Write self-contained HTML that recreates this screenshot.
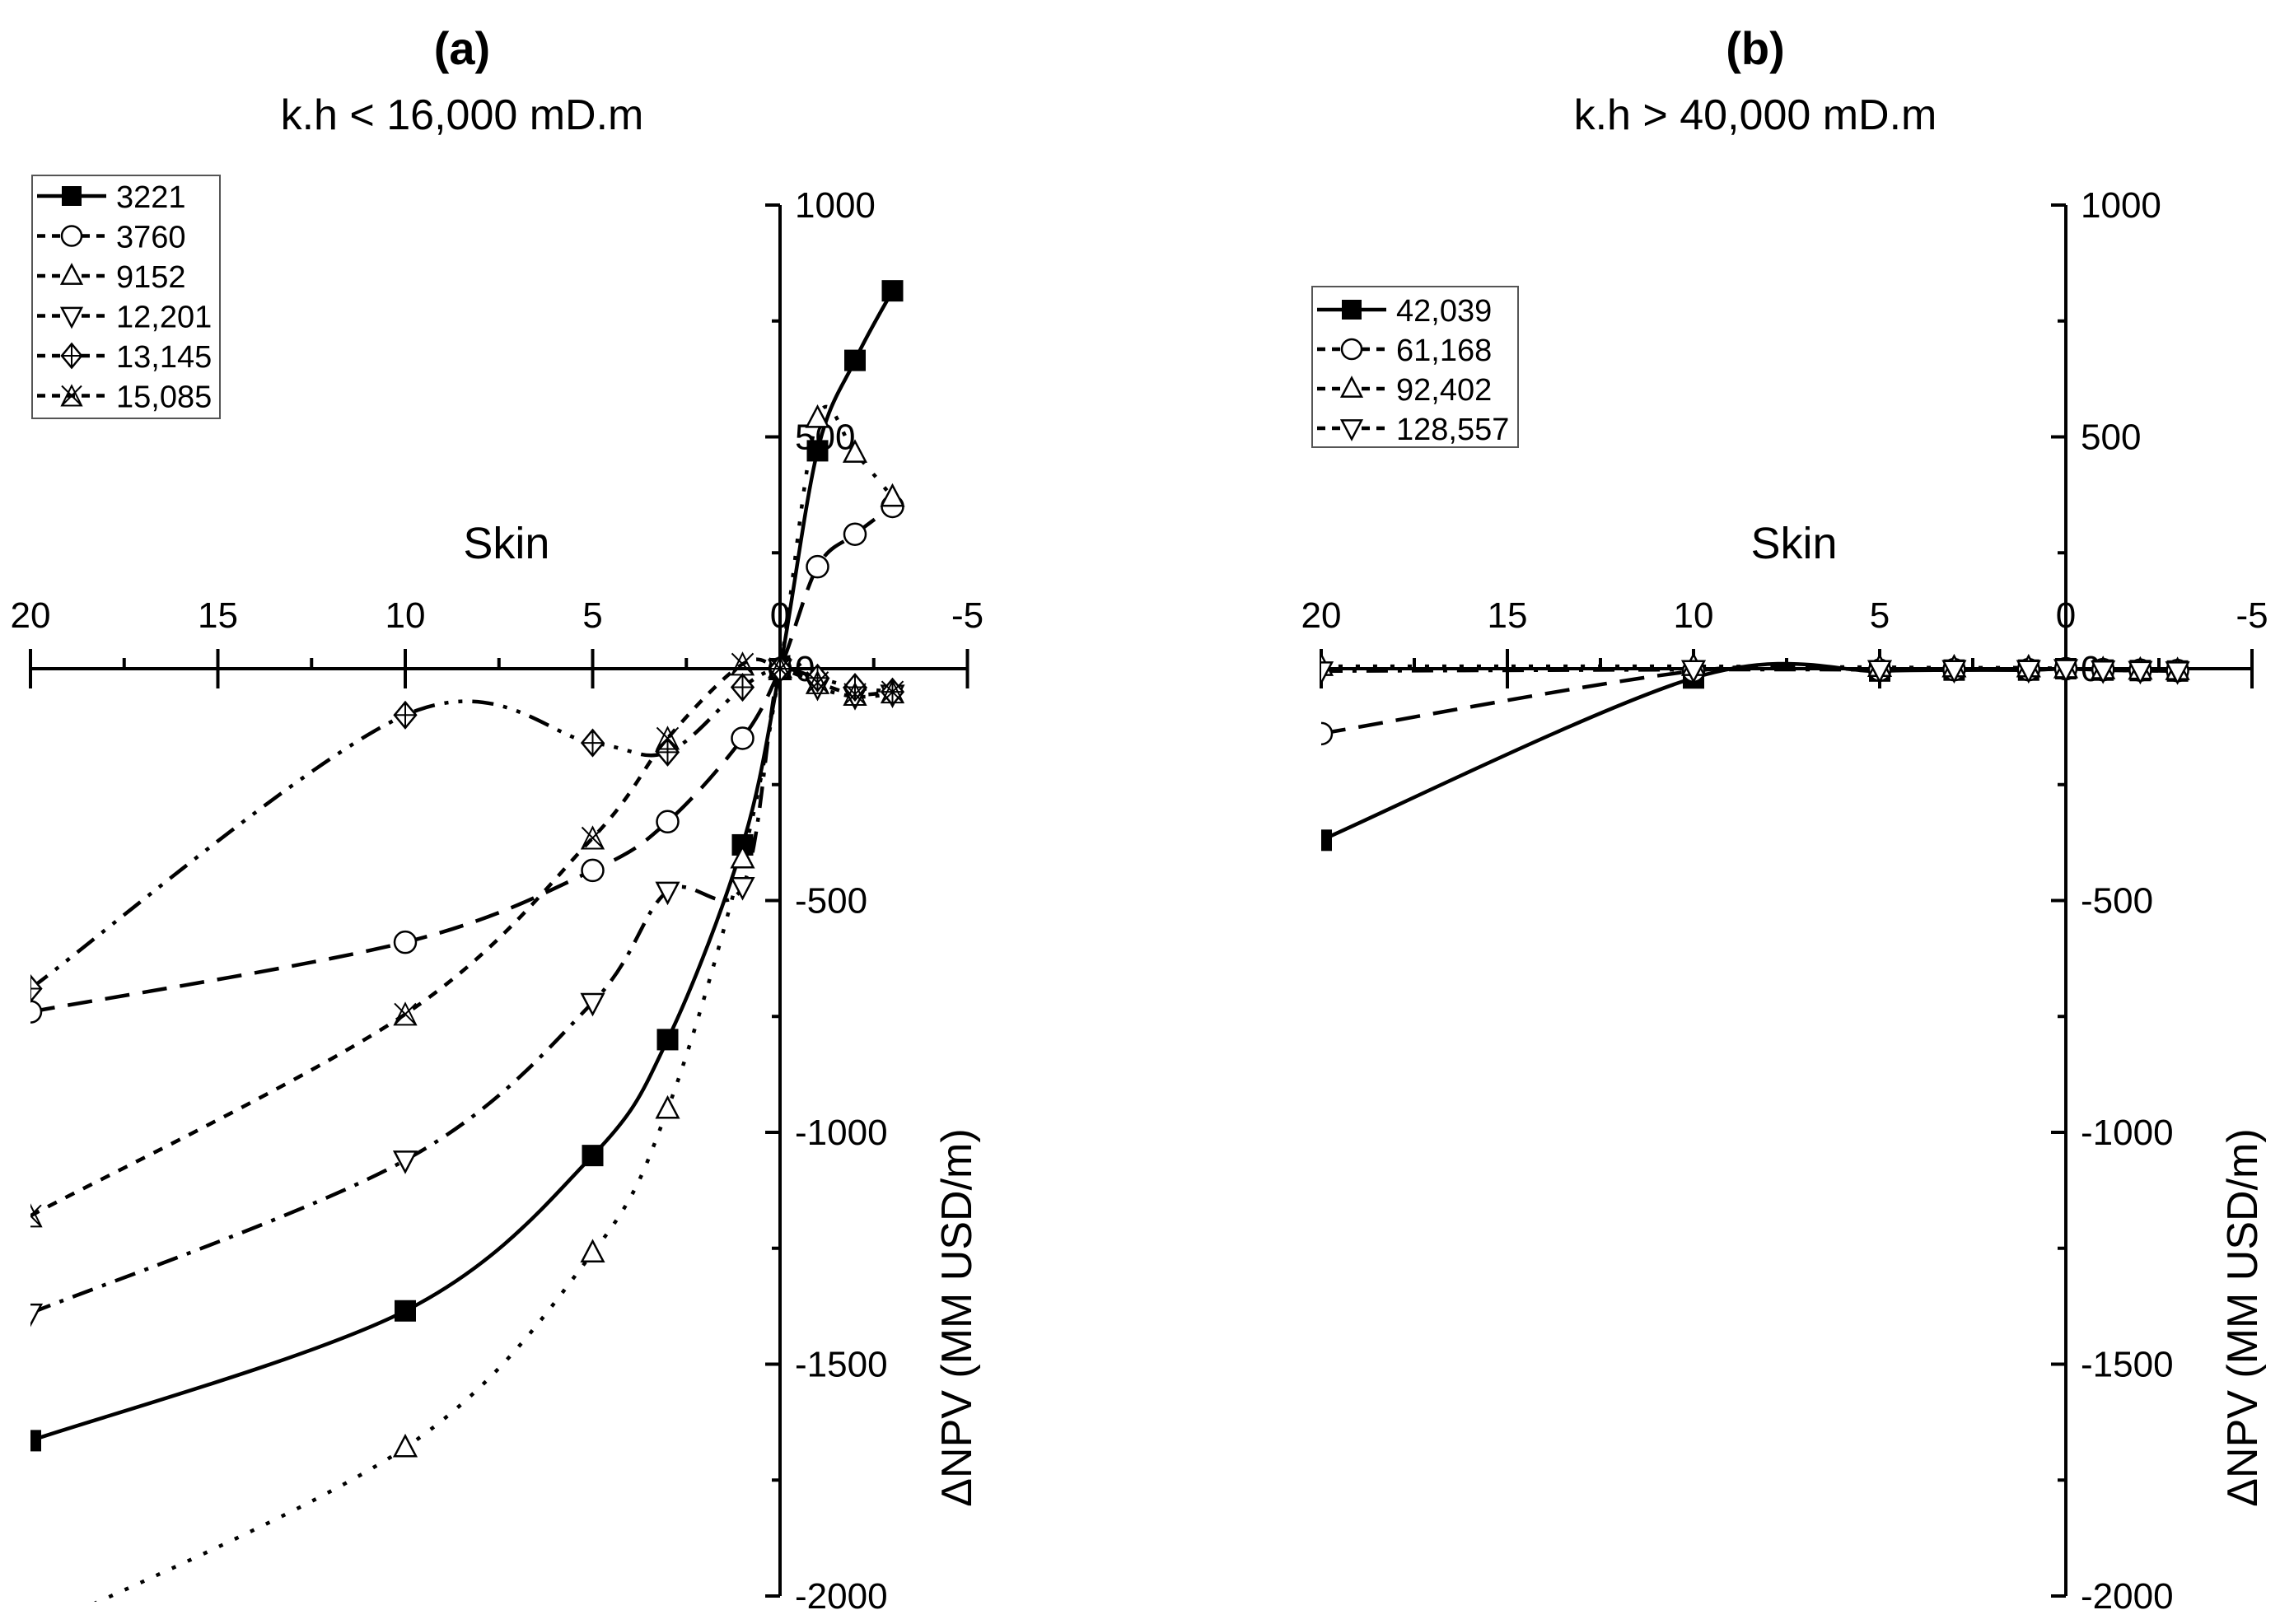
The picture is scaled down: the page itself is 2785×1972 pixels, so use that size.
<!DOCTYPE html>
<html><head><meta charset="utf-8"><style>
html,body{margin:0;padding:0;background:#fff;width:2785px;height:1972px;overflow:hidden}
svg{display:block}
text{font-family:"Liberation Sans",sans-serif;fill:#000}
</style></head><body>
<svg id="chart" width="2785" height="1972" viewBox="0 0 2785 1972" xmlns="http://www.w3.org/2000/svg">
<defs>
<clipPath id="clipA"><rect x="37" y="200" width="1150" height="1745"/></clipPath>
<clipPath id="clipB"><rect x="1604" y="200" width="1150" height="1745"/></clipPath>
</defs>
<g id="root"></g>
</svg>
<script>
const skinA = [20, 10, 5, 3, 1, 0, -1, -2, -3];
const namesA = ["3221", "3760", "9152", "12,201", "13,145", "15,085"];
const s3221 = [-1665, -1385, -1050, -800, -380, 0, 470, 665, 815];
const s3760 = [-740, -590, -435, -330, -150, 0, 220, 290, 350];
const s9152 = [-2080, -1680, -1260, -950, -410, 0, 540, 465, 370];
const s12201 = [-1390, -1060, -720, -480, -470, 0, -40, -60, -55];
const s13145 = [-690, -100, -160, -180, -40, 0, -20, -40, -50];
const s15085 = [-1180, -745, -365, -150, 10, 0, -30, -55, -50];
const skinB = [20, 10, 5, 3, 1, 0, -1, -2, -3];
const namesB = ["42,039", "61,168", "92,402", "128,557"];
const s42039 = [-370, -20, -5, -3, -3, 0, -3, -4, -5];
const s61168 = [-140, -5, -3, -2, -2, 0, -2, -3, -4];
const s92402 = [5, 5, 3, 2, 2, 0, -2, -3, -4];
const s128557 = [-5, -2, -2, -2, -2, 0, -3, -4, -5];
const yTicks = [1000, 500, 0, -500, -1000, -1500, -2000];
const xTicks = [20, 15, 10, 5, 0, -5];

const NS = "http://www.w3.org/2000/svg";
const root = document.getElementById("root");
function el(tag, attrs, parent, txt) {
  const e = document.createElementNS(NS, tag);
  for (const k in attrs) e.setAttribute(k, attrs[k]);
  if (txt !== undefined) e.textContent = txt;
  (parent || root).appendChild(e);
  return e;
}
function mkX(x20, x0) { return v => x0 + (x20 - x0) * v / 20; }
const yOf = v => 812 - v * (563 / 1000);

const styles = [
  {dash: "", m: "square"},
  {dash: "30 16", m: "circle"},
  {dash: "5 16", m: "tri"},
  {dash: "26 12 5 12", m: "itri"},
  {dash: "26 12 5 12 5 12", m: "diam"},
  {dash: "12 12", m: "xstar"}
];

function spline(pts) {
  let d = "M" + pts[0][0] + "," + pts[0][1];
  for (let i = 0; i < pts.length - 1; i++) {
    const p0 = pts[Math.max(0, i - 1)], p1 = pts[i], p2 = pts[i + 1], p3 = pts[Math.min(pts.length - 1, i + 2)];
    const c1x = p1[0] + (p2[0] - p0[0]) / 6, c1y = p1[1] + (p2[1] - p0[1]) / 6;
    const c2x = p2[0] - (p3[0] - p1[0]) / 6, c2y = p2[1] - (p3[1] - p1[1]) / 6;
    d += " C" + c1x + "," + c1y + " " + c2x + "," + c2y + " " + p2[0] + "," + p2[1];
  }
  return d;
}

function marker(g, type, x, y, r) {
  const a = {stroke: "#000", "stroke-width": 2.5, fill: "#fff"};
  let e;
  if (type === "square") e = el("rect", {x: x - r, y: y - r, width: 2 * r, height: 2 * r, fill: "#000"}, g);
  else if (type === "circle") e = el("circle", Object.assign({cx: x, cy: y, r: r}, a), g);
  else if (type === "tri") e = el("polygon", Object.assign({points: `${x},${y - r * 1.1} ${x - r},${y + r * 0.8} ${x + r},${y + r * 0.8}`}, a), g);
  else if (type === "itri") e = el("polygon", Object.assign({points: `${x},${y + r * 1.1} ${x - r},${y - r * 0.8} ${x + r},${y - r * 0.8}`}, a), g);
  else if (type === "diam") {
    e = el("polygon", Object.assign({points: `${x},${y - r * 1.2} ${x + r},${y} ${x},${y + r * 1.2} ${x - r},${y}`}, a), g);
    el("path", {d: `M${x - r},${y}H${x + r}M${x},${y - r * 1.2}V${y + r * 1.2}`, stroke: "#000", "stroke-width": 2}, g);
  } else if (type === "xstar") {
    e = el("path", {d: `M${x - r},${y - r}L${x + r},${y + r}M${x + r},${y - r}L${x - r},${y + r}M${x},${y - r}L${x - r},${y + r}L${x + r},${y + r}Z`, stroke: "#000", "stroke-width": 2, fill: "none"}, g);
  }
  return e;
}

function panel(id, x20, x0, skins, series, names, clip, legend, title, sub, tcx) {
  const X = mkX(x20, x0);
  const xm5 = X(-5);
  const g = el("g", {}, root);
  
  
  const tg = el("text", {x: tcx, y: 78, "font-size": 56, "font-weight": "bold", "text-anchor": "middle"}, g, title);
  
  
  const st = el("text", {x: tcx, y: 157, "font-size": 52, "text-anchor": "middle"}, g, sub);
  
  
  const xa = el("g", {}, g);
  
  
  el("line", {x1: x20, x2: xm5, y1: 812, y2: 812, stroke: "#000", "stroke-width": 4}, xa);
  for (let v = 20; v >= -5; v -= 2.5) {
    const major = Math.abs(v % 5) < 1e-9;
    el("line", {x1: X(v), x2: X(v), y1: major ? 788 : 799, y2: major ? 836 : 812, stroke: "#000", "stroke-width": 4}, xa);
  }
  xTicks.forEach(v => {
    const t = el("text", {x: X(v), y: 762, "font-size": 44, "text-anchor": "middle"}, xa, String(v));
    
    
  });
  const xt = el("text", {x: X(7.3), y: 678, "font-size": 54, "text-anchor": "middle"}, xa, "Skin");
  
  
  const ya = el("g", {}, g);
  
  
  el("line", {x1: x0, x2: x0, y1: yOf(1000), y2: yOf(-2000), stroke: "#000", "stroke-width": 4}, ya);
  for (let v = 1000; v >= -2000; v -= 250) {
    const major = v % 500 === 0;
    el("line", {x1: x0 - (major ? 18 : 10), x2: x0, y1: yOf(v), y2: yOf(v), stroke: "#000", "stroke-width": 4}, ya);
  }
  yTicks.forEach(v => {
    const t = el("text", {x: x0 + 18, y: yOf(v) + 15, "font-size": 44}, ya, String(v));
    
    
  });
  const yt = el("text", {x: 0, y: 0, "font-size": 52, "text-anchor": "middle", transform: `translate(${x0 + 232},1600) rotate(-90)`}, ya, "\u0394NPV (MM USD/m)");
  
  
  const sg = el("g", {"clip-path": `url(#${clip})`}, g);
  series.forEach((vals, i) => {
    const pts = vals.map((v, j) => [X(skins[j]), yOf(v)]);
    const p = el("path", {d: spline(pts), fill: "none", stroke: "#000", "stroke-width": 4.5, "stroke-dasharray": styles[i].dash}, sg);
    
    
  });
  series.forEach((vals, i) => {
    vals.forEach((v, j) => {
      const m = marker(sg, styles[i].m, X(skins[j]), yOf(v), 13);
      
      
    });
  });
  const lg = el("g", {}, g);
  
  
  const [lx, ly, lw, lh, rowH, y0] = legend;
  el("rect", {x: lx, y: ly, width: lw, height: lh, fill: "#fff", stroke: "#555", "stroke-width": 2}, lg);
  names.forEach((n, i) => {
    const yy = ly + y0 + i * rowH;
    const e = el("g", {}, lg);
    
    
    el("line", {x1: lx + 6, x2: lx + 90, y1: yy, y2: yy, stroke: "#000", "stroke-width": 4.5, "stroke-dasharray": styles[i].dash ? "10 8" : ""}, e);
    marker(e, styles[i].m, lx + 48, yy, 12);
    el("text", {x: lx + 102, y: yy + 14, "font-size": 38}, e, n);
  });
}

panel("panel-a", 37, 947, skinA, [s3221, s3760, s9152, s12201, s13145, s15085], namesA, "clipA",
  [39, 213, 228, 295, 48.5, 25], "(a)", "k.h < 16,000 mD.m", 561);
panel("panel-b", 1604, 2508, skinB, [s42039, s61168, s92402, s128557], namesB, "clipB",
  [1593, 348, 250, 195, 48, 28], "(b)", "k.h > 40,000 mD.m", 2131);
</script>
</body></html>
